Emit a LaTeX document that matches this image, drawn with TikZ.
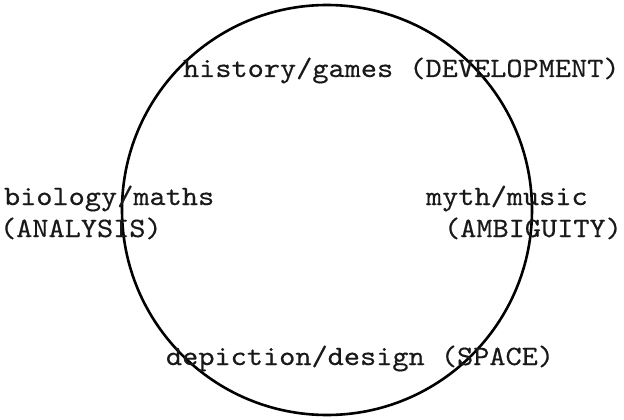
\documentclass[tikz,border=0pt]{standalone}
\usepackage{fontspec}
\newfontfamily\cour[FakeStretch=1.1,FakeBold=0.4]{lmmono10-regular.otf}
\begin{document}
\begin{tikzpicture}[x=1pt,y=-1pt,
  lbl/.style={anchor=base west, inner sep=0pt, outer sep=0pt, font=\fontsize{28}{32}\cour, text=black!90},
  ring/.style={draw=black, line width=2.6pt, circle, minimum size=410pt, inner sep=0pt}]
\useasboundingbox (0,0) rectangle (624,420);
\node[ring] (circ) at (327,210) {};
\node[lbl] (top) at (183,77) {history/games (DEVELOPMENT)};
\node[lbl] (left1) at (4,205) {biology/maths};
\node[lbl] (left2) at (0,237) {(ANALYSIS)};
\node[lbl] (right1) at (426,205) {myth/music};
\node[lbl] (right2) at (444,237) {(AMBIGUITY)};
\node[lbl] (bottom) at (166,365) {depiction/design (SPACE)};
\end{tikzpicture}
\end{document}
